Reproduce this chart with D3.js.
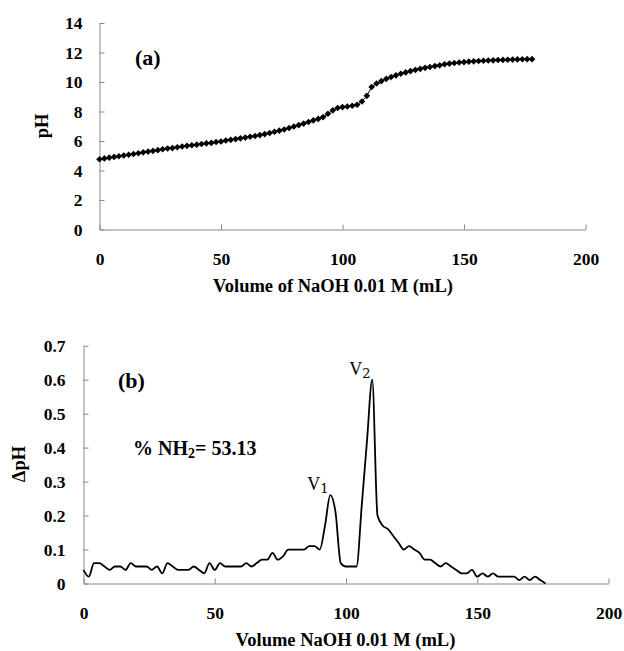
<!DOCTYPE html>
<html>
<head>
<meta charset="utf-8">
<script src="https://cdn.jsdelivr.net/npm/d3@7"></script>
<style>
  body { margin: 0; background: #fff; }
  svg { display: block; font-family: "Liberation Serif", "Times New Roman", serif; }
  .axis path, .axis line { stroke: #898989; stroke-width: 1; }
  .axis text { font-size: 17.5px; font-weight: bold; fill: #000; font-family: "Liberation Serif", serif; }
  .title { font-size: 18.5px; font-weight: bold; }
  .label { font-weight: bold; }
</style>
</head>
<body>
<svg id="chart" width="624" height="651"></svg>
<script>
// (a) titration curve, pH vs added NaOH
const volumeA = [0, 2, 4, 6, 8, 10, 12, 14, 16, 18, 20, 22, 24, 26, 28, 30, 32, 34, 36, 38,
  40, 42, 44, 46, 48, 50, 52, 54, 56, 58, 60, 62, 64, 66, 68, 70, 72, 74, 76, 78,
  80, 82, 84, 86, 88, 90, 92, 94, 96, 98, 100, 102, 104, 106, 108, 110, 112, 114, 116, 118,
  120, 122, 124, 126, 128, 130, 132, 134, 136, 138, 140, 142, 144, 146, 148, 150, 152, 154, 156, 158,
  160, 162, 164, 166, 168, 170, 172, 174, 176, 178];
const phA = [4.76, 4.82, 4.87, 4.92, 4.97, 5.02, 5.07, 5.12, 5.17, 5.23, 5.28, 5.33, 5.38, 5.44, 5.49, 5.52, 5.58, 5.63, 5.67, 5.71,
  5.75, 5.80, 5.84, 5.87, 5.93, 5.97, 6.03, 6.08, 6.13, 6.18, 6.23, 6.29, 6.34, 6.40, 6.47, 6.54, 6.63, 6.70, 6.78, 6.88,
  6.98, 7.08, 7.18, 7.29, 7.40, 7.50, 7.62, 7.85, 8.08, 8.24, 8.30, 8.34, 8.39, 8.46, 8.68, 9.06, 9.66, 9.90, 10.06, 10.21,
  10.34, 10.45, 10.56, 10.65, 10.74, 10.82, 10.89, 10.96, 11.02, 11.08, 11.13, 11.20, 11.25, 11.29, 11.32, 11.35, 11.38, 11.40, 11.42, 11.44,
  11.46, 11.47, 11.49, 11.50, 11.51, 11.52, 11.53, 11.54, 11.55, 11.55];

// (b) first difference, delta pH
const volumeB = [0, 2, 4, 6, 8, 10, 12, 14, 16, 18, 20, 22, 24, 26, 28, 30, 32, 34, 36, 38,
  40, 42, 44, 46, 48, 50, 52, 54, 56, 58, 60, 62, 64, 66, 68, 70, 72, 74, 76, 78,
  80, 82, 84, 86, 88, 90, 92, 94, 96, 98, 100, 102, 104, 106, 108, 110, 112, 114, 116, 118,
  120, 122, 124, 126, 128, 130, 132, 134, 136, 138, 140, 142, 144, 146, 148, 150, 152, 154, 156, 158,
  160, 162, 164, 166, 168, 170, 172, 174, 176];
const dphB = [0.04, 0.02, 0.06, 0.06, 0.05, 0.04, 0.05, 0.05, 0.04, 0.06, 0.05, 0.05, 0.05, 0.04, 0.05, 0.03, 0.06, 0.05, 0.04, 0.04,
  0.04, 0.05, 0.04, 0.03, 0.06, 0.04, 0.06, 0.05, 0.05, 0.05, 0.05, 0.06, 0.05, 0.06, 0.07, 0.07, 0.09, 0.07, 0.08, 0.10,
  0.10, 0.10, 0.10, 0.11, 0.11, 0.10, 0.17, 0.26, 0.21, 0.06, 0.05, 0.05, 0.05, 0.23, 0.42, 0.60, 0.20, 0.17, 0.16, 0.14,
  0.12, 0.10, 0.11, 0.10, 0.09, 0.07, 0.07, 0.06, 0.05, 0.06, 0.05, 0.04, 0.03, 0.03, 0.04, 0.02, 0.03, 0.02, 0.03, 0.02,
  0.02, 0.02, 0.02, 0.01, 0.02, 0.01, 0.02, 0.01, 0.00];

const xTicks = [0, 50, 100, 150, 200];
const yTicksA = [0, 2, 4, 6, 8, 10, 12, 14];
const yTicksB = [0, 0.1, 0.2, 0.3, 0.4, 0.5, 0.6, 0.7];
const yLabelsB = ["0", "0.1", "0.2", "0.3", "0.4", "0.5", "0.6", "0.7"];

const svg = d3.select("#chart");

// ---- panel (a)
const xA = d3.scaleLinear().domain([0, 200]).range([99.5, 585.5]);
const yA = d3.scaleLinear().domain([0, 14]).range([229.5, 23]);

svg.append("g")
  .attr("class", "axis")
  .attr("transform", `translate(0,${yA(0)})`)
  .call(d3.axisBottom(xA).tickValues(xTicks).tickSize(-5).tickSizeOuter(0))
  .selectAll("text").attr("y", 35.5).attr("dy", 0);

svg.append("g")
  .attr("class", "axis")
  .attr("transform", `translate(${xA(0)},0)`)
  .call(d3.axisLeft(yA).tickValues(yTicksA).tickSize(-5).tickSizeOuter(0).tickPadding(17));

const pts = volumeA.map((v, i) => [v, phA[i]]);
svg.append("path")
  .datum(pts)
  .attr("fill", "none")
  .attr("stroke", "#000")
  .attr("stroke-width", 1)
  .attr("d", d3.line().x((d) => xA(d[0])).y((d) => yA(d[1])));

svg.append("g")
  .selectAll("path")
  .data(pts)
  .join("path")
  .attr("d", d3.symbol(d3.symbolSquare, 22))
  .attr("transform", (d) => `translate(${xA(d[0])},${yA(d[1])}) rotate(45)`)
  .attr("fill", "#000");

svg.append("text")
  .attr("class", "title")
  .attr("x", 333)
  .attr("y", 292)
  .attr("text-anchor", "middle")
  .text("Volume of NaOH 0.01 M (mL)");

svg.append("text")
  .attr("class", "title")
  .attr("transform", "translate(47.5,126) rotate(-90)")
  .attr("text-anchor", "middle")
  .text("pH");

svg.append("text")
  .attr("class", "label")
  .attr("x", 135)
  .attr("y", 64.5)
  .attr("font-size", 22)
  .text("(a)");

// ---- panel (b)
const xB = d3.scaleLinear().domain([0, 200]).range([83.5, 608.5]);
const yB = d3.scaleLinear().domain([0, 0.7]).range([583.5, 345.7]);

svg.append("g")
  .attr("class", "axis")
  .attr("transform", `translate(0,${yB(0)})`)
  .call(d3.axisBottom(xB).tickValues(xTicks).tickSize(-5).tickSizeOuter(0))
  .selectAll("text").attr("y", 35.5).attr("dy", 0);

svg.append("g")
  .attr("class", "axis")
  .attr("transform", `translate(${xB(0)},0)`)
  .call(d3.axisLeft(yB).tickValues(yTicksB).tickSize(-5).tickSizeOuter(0).tickPadding(18)
    .tickFormat((d, i) => yLabelsB[i]));

svg.append("path")
  .datum(volumeB.map((v, i) => [v, dphB[i]]))
  .attr("fill", "none")
  .attr("stroke", "#000")
  .attr("stroke-width", 1.8)
  .attr("stroke-linejoin", "round")
  .attr("d", d3.line().x((d) => xB(d[0])).y((d) => yB(d[1])).curve(d3.curveMonotoneX));

svg.append("text")
  .attr("class", "title")
  .attr("x", 345.5)
  .attr("y", 646)
  .attr("text-anchor", "middle")
  .text("Volume NaOH 0.01 M (mL)");

svg.append("text")
  .attr("class", "title")
  .attr("transform", "translate(25,464) rotate(-90)")
  .attr("text-anchor", "middle")
  .text("ΔpH");

svg.append("text")
  .attr("class", "label")
  .attr("x", 118)
  .attr("y", 388)
  .attr("font-size", 22)
  .text("(b)");

const nh = svg.append("text")
  .attr("class", "label")
  .attr("x", 133)
  .attr("y", 455)
  .attr("font-size", 20);
nh.append("tspan").text("% NH");
nh.append("tspan").attr("font-size", 14).attr("dy", 3).text("2");
nh.append("tspan").attr("dy", -3).text("= 53.13");

// peak labels placed from the data peaks
const peak1 = 47, peak2 = 55;
[[peak1, "1"], [peak2, "2"]].forEach(([i, sub]) => {
  const t = svg.append("text")
    .attr("x", xB(volumeB[i]) - 23)
    .attr("y", yB(dphB[i]) - 5)
    .attr("font-size", 18);
  t.append("tspan").text("V");
  t.append("tspan").attr("font-size", 13).attr("dy", 3).attr("font-family", "DejaVu Serif").text(sub);
});
</script>
</body>
</html>
